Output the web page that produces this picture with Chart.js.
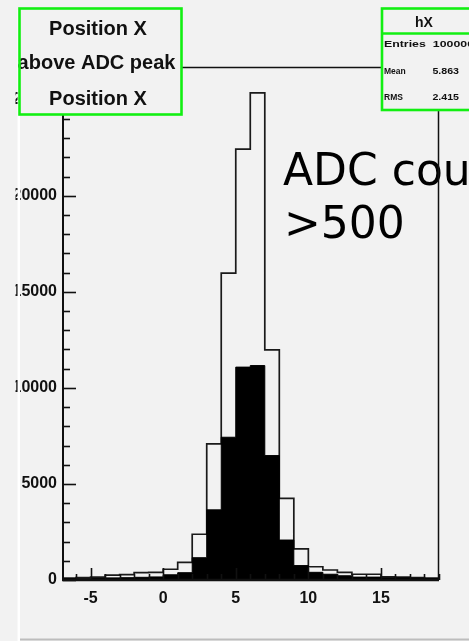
<!DOCTYPE html>
<html>
<head>
<meta charset="utf-8">
<script src="https://cdn.jsdelivr.net/npm/chart.js@4/dist/chart.umd.min.js"></script>
<style>
  html, body { margin: 0; padding: 0; background: #f2f2f2; overflow: hidden; }
  canvas { display: block; }
</style>
</head>
<body>
<canvas id="c" width="469" height="641"></canvas>
<script>
// Histogram binning: lower edge of each unit-wide bin
const binLowEdges = [-7, -6, -5, -4, -3, -2, -1, 0, 1, 2, 3, 4, 5, 6, 7, 8, 9, 10, 11, 12, 13, 14, 15, 16, 17, 18];
const binWidth = 1;

// hX: all entries (open outline)
const countsAll = [100, 130, 150, 250, 280, 380, 400, 560, 920, 2380, 7080, 15970, 22430, 25350, 11980, 4250, 1615, 690, 520, 400, 300, 300, 170, 150, 120, 100];
// entries with ADC counts > 500 (filled black)
const countsAboveAdc = [60, 70, 80, 110, 120, 140, 160, 270, 380, 1160, 3650, 7430, 11080, 11160, 6475, 2080, 750, 400, 300, 220, 150, 150, 120, 110, 90, 80];

const xTickValues = [-5, 0, 5, 10, 15];
const yTickValues = [0, 5000, 10000, 15000, 20000, 25000];

const titleLines = ['Position X', 'above ADC peak', 'Position X'];
const statsName = 'hX';
const statsRows = [['Entries', '100000'], ['Mean', '5.863'], ['RMS', '2.415']];
const noteLines = ['ADC counts', '>500'];

// Turn bin contents into a closed step contour
function stepPoints(counts) {
  const pts = [{ x: binLowEdges[0], y: 0 }];
  counts.forEach((c, i) => pts.push({ x: binLowEdges[i], y: c }));
  const last = binLowEdges[binLowEdges.length - 1] + binWidth;
  pts.push({ x: last, y: counts[counts.length - 1] });
  pts.push({ x: last, y: 0 });
  return pts;
}

const GREEN = '#12ef12';
const INK = '#111';
const PAD_BG = '#f2f2f2';

function stretchedText(ctx, text, x, y, font, sx, align) {
  ctx.save();
  ctx.translate(x, y);
  ctx.scale(sx, 1);
  ctx.font = font;
  ctx.textAlign = align;
  ctx.textBaseline = 'alphabetic';
  ctx.fillText(text, 0, 0);
  ctx.restore();
}

const padPlugin = {
  id: 'pad',
  beforeDraw(chart) {
    const ctx = chart.ctx;
    ctx.save();
    ctx.fillStyle = PAD_BG;
    ctx.fillRect(0, 0, chart.width, chart.height);
    ctx.restore();
  },
  afterDatasetsDraw(chart) {
    const { ctx, chartArea: a, scales: { x, y } } = chart;
    ctx.save();

    // annotation text
    ctx.fillStyle = '#000';
    ctx.font = '44px "DejaVu Sans"';
    ctx.textAlign = 'left';
    ctx.textBaseline = 'alphabetic';
    ctx.fillText(noteLines[0], 283, 185);
    ctx.fillText(noteLines[1], 284, 238);

    ctx.strokeStyle = INK;
    // x ticks, pointing into the frame
    ctx.lineWidth = 1.6;
    for (let v = Math.ceil(x.min); v <= Math.floor(x.max); v++) {
      const px = Math.round(x.getPixelForValue(v)) + 0.5;
      const len = v % 5 === 0 ? 12 : 6;
      ctx.beginPath();
      ctx.moveTo(px, a.bottom);
      ctx.lineTo(px, a.bottom - len);
      ctx.stroke();
    }
    // y ticks
    for (let v = 0; v <= y.max; v += 1000) {
      const py = Math.round(y.getPixelForValue(v)) + 0.5;
      const len = v % 5000 === 0 ? 13 : 7;
      ctx.beginPath();
      ctx.moveTo(a.left, py);
      ctx.lineTo(a.left + len, py);
      ctx.stroke();
    }
    // frame
    ctx.lineWidth = 1.5;
    ctx.beginPath();
    ctx.moveTo(a.left, a.top + 0.5);
    ctx.lineTo(a.right, a.top + 0.5);
    ctx.moveTo(a.right - 0.5, a.top);
    ctx.lineTo(a.right - 0.5, a.bottom);
    ctx.stroke();
    ctx.lineWidth = 2;
    ctx.beginPath();
    ctx.moveTo(a.left, a.top);
    ctx.lineTo(a.left, a.bottom);
    ctx.stroke();
    ctx.lineWidth = 2.5;
    ctx.beginPath();
    ctx.moveTo(a.left - 1, a.bottom);
    ctx.lineTo(a.right, a.bottom);
    ctx.stroke();
    ctx.restore();
  },
  afterDraw(chart) {
    const ctx = chart.ctx;
    ctx.save();
    // outside the pad
    ctx.fillStyle = PAD_BG;
    ctx.fillRect(0, 0, 15.5, chart.height);
    // pad edges
    ctx.strokeStyle = '#ffffff';
    ctx.lineWidth = 2.5;
    ctx.beginPath();
    ctx.moveTo(18.8, 10);
    ctx.lineTo(18.8, 641);
    ctx.stroke();
    ctx.strokeStyle = '#bdbdbd';
    ctx.lineWidth = 2;
    ctx.beginPath();
    ctx.moveTo(20, 639.5);
    ctx.lineTo(469, 639.5);
    ctx.stroke();

    // title box
    ctx.fillStyle = PAD_BG;
    ctx.fillRect(19.5, 8.5, 162, 106);
    ctx.fillStyle = INK;
    ctx.font = 'bold 20px "Liberation Sans"';
    ctx.textAlign = 'center';
    ctx.textBaseline = 'alphabetic';
    ctx.fillText(titleLines[0], 98, 35);
    ctx.fillText(titleLines[1], 96.5, 68.5);
    ctx.fillText(titleLines[2], 98, 105);
    ctx.strokeStyle = GREEN;
    ctx.lineWidth = 2.6;
    ctx.strokeRect(19.5, 8.5, 162, 106);

    // statistics box
    ctx.fillStyle = PAD_BG;
    ctx.fillRect(382, 8.5, 100, 101.5);
    ctx.strokeStyle = GREEN;
    ctx.lineWidth = 2.6;
    ctx.strokeRect(382, 8.5, 100, 101.5);
    ctx.beginPath();
    ctx.moveTo(382, 33.5);
    ctx.lineTo(482, 33.5);
    ctx.stroke();
    ctx.fillStyle = INK;
    ctx.font = 'bold 14px "Liberation Sans"';
    ctx.textAlign = 'center';
    ctx.fillText(statsName, 424, 27);
    const rowFont = 'bold 8.5px "Liberation Sans"';
    const rowBase = [46.5, 74, 100];
    statsRows.forEach(([k, v], i) => {
      if (i === 0) {
        stretchedText(ctx, k, 384, rowBase[i], rowFont, 1.45, 'left');
        stretchedText(ctx, v, 474, rowBase[i], rowFont, 1.45, 'right');
      } else {
        stretchedText(ctx, k, 384, rowBase[i], rowFont, 1.0, 'left');
        stretchedText(ctx, v, 459, rowBase[i], rowFont, 1.25, 'right');
      }
    });
    ctx.restore();
  }
};

const tickFont = { family: 'Liberation Sans', weight: 'bold', size: 16 };

new Chart(document.getElementById('c'), {
  type: 'line',
  data: {
    datasets: [
      {
        label: 'above ADC peak',
        data: stepPoints(countsAboveAdc),
        stepped: 'before',
        borderColor: '#000',
        borderWidth: 1,
        backgroundColor: '#000',
        fill: 'origin',
        pointRadius: 0,
        order: 1
      },
      {
        label: 'hX',
        data: stepPoints(countsAll),
        stepped: 'before',
        borderColor: '#1a1a1a',
        borderWidth: 1.7,
        fill: false,
        pointRadius: 0,
        order: 2
      }
    ]
  },
  options: {
    responsive: false,
    animation: false,
    devicePixelRatio: 1,
    layout: { padding: { top: 67, right: 30, left: 0, bottom: 0 } },
    plugins: { legend: { display: false }, tooltip: { enabled: false } },
    scales: {
      x: {
        type: 'linear',
        min: -6.9,
        max: 19,
        grid: { display: false, drawTicks: false },
        border: { display: false },
        afterFit: s => { s.height = 61; },
        afterBuildTicks: s => { s.ticks = xTickValues.map(v => ({ value: v })); },
        ticks: { font: tickFont, color: INK, padding: 9, maxRotation: 0, autoSkip: false, callback: v => String(v) }
      },
      y: {
        type: 'linear',
        min: 0,
        max: 26700,
        grid: { display: false, drawTicks: false },
        border: { display: false },
        afterFit: s => { s.width = 63; },
        afterBuildTicks: s => { s.ticks = yTickValues.map(v => ({ value: v })); },
        ticks: { font: tickFont, color: INK, padding: 6, autoSkip: false, callback: v => String(v) }
      }
    }
  },
  plugins: [padPlugin]
});
</script>
</body>
</html>
